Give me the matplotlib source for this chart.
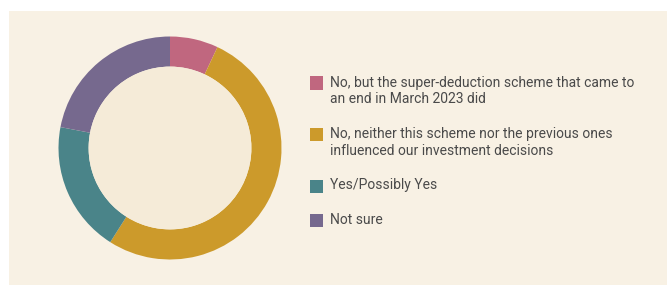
import matplotlib.pyplot as plt
from matplotlib.patches import Rectangle, Circle

# survey answers (share of respondents, %)
labels = ['No, but the super-deduction scheme that came to\nan end in March 2023 did',
          'No, neither this scheme nor the previous ones\ninfluenced our investment decisions',
          'Yes/Possibly Yes',
          'Not sure']
shares = [7, 52, 19, 22]
colors = ['#C0677F', '#CC9A2B', '#4A8489', '#76698E']

W, H = 667, 285
fig = plt.figure(figsize=(W / 100, H / 100), dpi=100)
fig.patch.set_facecolor('white')

# beige panel (behind everything)
fig.patches.append(Rectangle((9 / W, 0), 1 - 9 / W, (H - 11) / H,
                             transform=fig.transFigure, facecolor='#F8F1E4',
                             edgecolor='none', zorder=-5))

# donut
cx, cy, r = 170, H - 148, 111.5
ax = fig.add_axes([(cx - r) / W, (cy - r) / H, 2 * r / W, 2 * r / H])
ax.pie(shares, colors=colors, startangle=90, counterclock=False, radius=1,
       wedgeprops=dict(width=0.27, edgecolor='none', antialiased=True))
ax.add_patch(Circle((0, 0), 0.73, facecolor='#F5EBD8', edgecolor='none'))
ax.set_xlim(-1, 1)
ax.set_ylim(-1, 1)
ax.set_aspect('equal')
ax.axis('off')

# legend
box_y = [83, 134.5, 186, 220.5]
for lab, col, y in zip(labels, colors, box_y):
    fig.patches.append(Rectangle((310 / W, (H - y - 6.5) / H), 13 / W, 13 / H,
                                 transform=fig.transFigure, facecolor=col,
                                 edgecolor='none'))
    fig.text(330 / W, (H - y + 7.5) / H, lab, ha='left', va='top',
             fontsize=10, family='Roboto', color='#4A4A4A', linespacing=1.25)

fig.savefig('out.png', dpi=100)
